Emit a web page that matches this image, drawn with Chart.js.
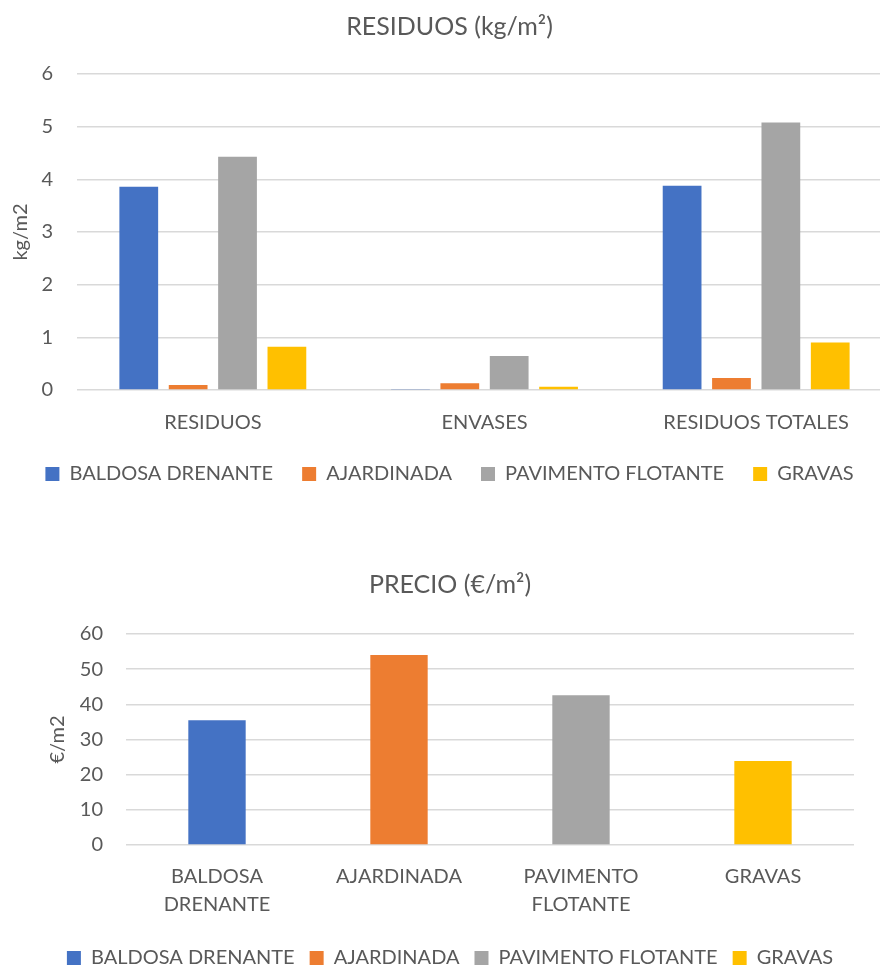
<!DOCTYPE html>
<html><head><meta charset="utf-8">
<script src="https://cdn.jsdelivr.net/npm/chart.js@4.4.1/dist/chart.umd.min.js"></script>
<style>
html,body{margin:0;padding:0;background:#fff;overflow:hidden;width:880px;height:969px;position:relative;}
#c1{position:absolute;left:0;top:0;}
#c2{position:absolute;left:0;top:560px;}
</style></head><body>
<canvas id="c1" width="895" height="494"></canvas>
<canvas id="c2" width="880" height="418"></canvas>
<script>
// ---- data ----
const residuosCategories = ['RESIDUOS', 'ENVASES', 'RESIDUOS TOTALES'];
const seriesNames = ['BALDOSA DRENANTE', 'AJARDINADA', 'PAVIMENTO FLOTANTE', 'GRAVAS'];
const baldosaDrenante = [3.86, 0.02, 3.88];
const ajardinada = [0.095, 0.13, 0.23];
const pavimentoFlotante = [4.43, 0.645, 5.08];
const gravas = [0.82, 0.06, 0.90];
const residuosTicks = [0, 1, 2, 3, 4, 5, 6];

const precioCategories = ['BALDOSA DRENANTE', 'AJARDINADA', 'PAVIMENTO FLOTANTE', 'GRAVAS'];
const precioValues = [35.5, 54.0, 42.6, 23.9];
const precioTicks = [0, 10, 20, 30, 40, 50, 60];

// ---- styles ----
const COLORS = ['#4472C4', '#ED7D31', '#A5A5A5', '#FFC000'];
const TXT = '#595959';
const GRID = '#d9d9d9';
const FONT = 'Lato, "Open Sans", sans-serif';
Chart.defaults.font.family = FONT;
Chart.defaults.color = TXT;
Chart.defaults.devicePixelRatio = 1;

const residuosSeries = [baldosaDrenante, ajardinada, pavimentoFlotante, gravas];

new Chart(document.getElementById('c1'), {
  type: 'bar',
  data: {
    labels: residuosCategories,
    datasets: residuosSeries.map((d, i) => ({
      label: seriesNames[i],
      data: d,
      backgroundColor: COLORS[i],
      borderWidth: 0,
      categoryPercentage: 0.727,
      barPercentage: 0.785
    }))
  },
  options: {
    responsive: false,
    animation: false,
    layout: { padding: { left: 7, right: 3, top: 0, bottom: 0 } },
    plugins: {
      tooltip: { enabled: false },
      title: {
        display: true,
        text: 'RESIDUOS (kg/m²)',
        color: TXT,
        font: { size: 25, weight: 'normal', family: FONT },
        padding: { top: 12, bottom: 32 }
      },
      legend: {
        position: 'bottom',
        labels: {
          boxWidth: 14, boxHeight: 14, padding: 29,
          color: TXT, font: { size: 20, family: FONT }
        }
      }
    },
    scales: {
      x: {
        grid: { display: false, drawTicks: false },
        border: { display: false },
        ticks: { padding: 21, color: TXT, font: { size: 20, family: FONT } },
        afterFit: s => { s.height = 45; }
      },
      y: {
        min: 0, max: 6,
        afterBuildTicks: s => { s.ticks = residuosTicks.map(v => ({ value: v })); },
        grid: { color: GRID, lineWidth: 1.5, drawTicks: false },
        border: { display: false },
        ticks: { padding: 24, color: TXT, font: { size: 20, family: FONT } },
        title: {
          display: true, text: 'kg/m2', color: TXT,
          font: { size: 20, family: FONT }, padding: { top: 2, bottom: 0 }
        },
        afterFit: s => { s.width = 70; }
      }
    }
  }
});

new Chart(document.getElementById('c2'), {
  type: 'bar',
  data: {
    labels: precioCategories,
    datasets: [{
      label: 'PRECIO',
      data: precioValues,
      backgroundColor: COLORS,
      borderWidth: 0,
      categoryPercentage: 0.8,
      barPercentage: 0.394
    }]
  },
  options: {
    responsive: false,
    animation: false,
    layout: { padding: { left: 46, right: 26, top: 0, bottom: 0 } },
    plugins: {
      tooltip: { enabled: false },
      title: {
        display: true,
        text: 'PRECIO (€/m²)',
        color: TXT,
        font: { size: 25, weight: 'normal', family: FONT },
        padding: { top: 10, bottom: 34 }
      },
      legend: {
        position: 'bottom',
        labels: {
          boxWidth: 14, boxHeight: 14, padding: 15,
          color: TXT, font: { size: 20, family: FONT },
          generateLabels: chart => precioCategories.map((c, i) => ({
            text: c, fillStyle: COLORS[i], strokeStyle: COLORS[i],
            lineWidth: 0, hidden: false, index: i, fontColor: TXT
          }))
        },
        onClick: () => {}
      }
    },
    scales: {
      x: {
        grid: { display: false, drawTicks: false },
        border: { display: false },
        ticks: {
          padding: 18, color: TXT, maxRotation: 0, autoSkip: false,
          font: { size: 20, family: FONT, lineHeight: 1.4 },
          callback: function (v) {
            const l = this.getLabelForValue(v);
            return l.includes(' ') ? l.split(' ') : l;
          }
        },
        afterFit: s => { s.height = 88; }
      },
      y: {
        min: 0, max: 60,
        afterBuildTicks: s => { s.ticks = precioTicks.map(v => ({ value: v })); },
        grid: { color: GRID, lineWidth: 1.5, drawTicks: false },
        border: { display: false },
        ticks: { padding: 23, color: TXT, font: { size: 20, family: FONT } },
        title: {
          display: true, text: '€/m2', color: TXT,
          font: { size: 20, family: FONT }, padding: { top: 0, bottom: 0 }
        },
        afterFit: s => { s.width = 80; }
      }
    }
  }
});
</script>
</body></html>
